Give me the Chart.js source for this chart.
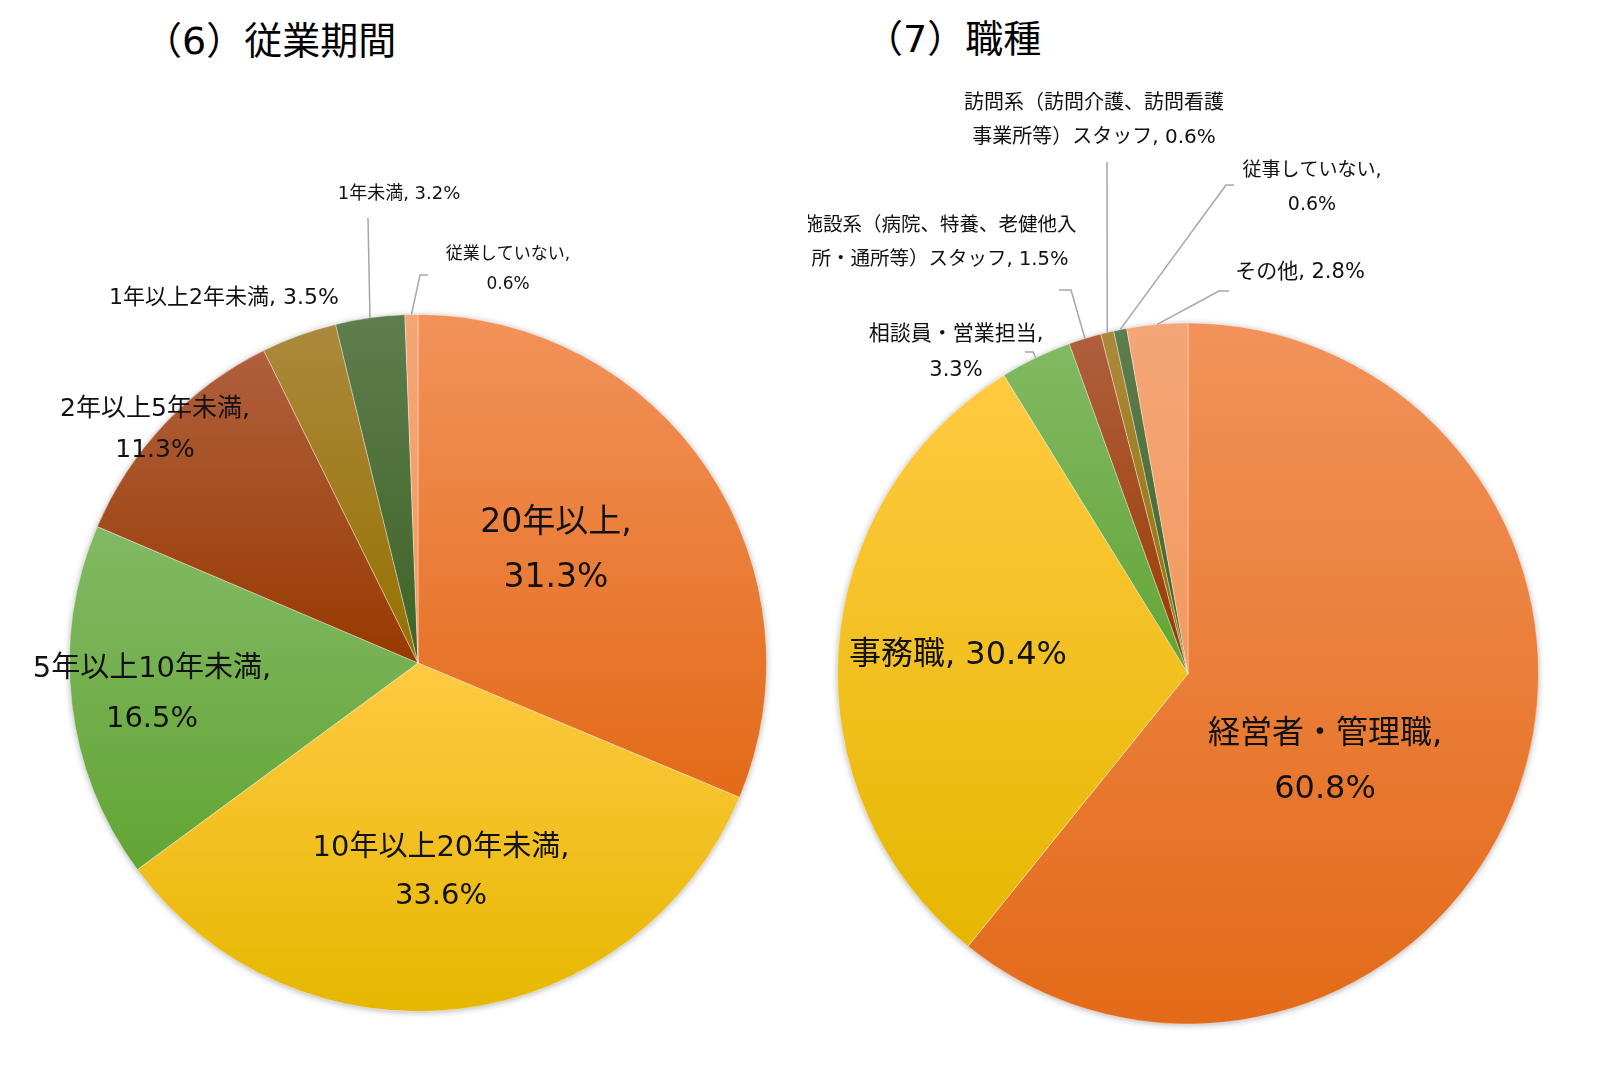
<!DOCTYPE html>
<html>
<head>
<meta charset="utf-8">
<script src="https://cdn.jsdelivr.net/npm/chart.js@4/dist/chart.umd.min.js"></script>
<style>
  html, body { margin: 0; padding: 0; background: #fff; }
  body { width: 1615px; height: 1071px; position: relative; overflow: hidden; }
  canvas { position: absolute; top: 0; }
  .title { position: absolute; font-family: "DejaVu Sans", "Noto Sans CJK JP", sans-serif; font-size: 38px; line-height: 38px; color: #000; white-space: nowrap; }
</style>
</head>
<body>
<div class="title" id="t6" style="left:144px; top:22px;">（6）従業期間</div>
<div class="title" id="t7" style="left:865px; top:20px;">（7）職種</div>
<canvas id="c6" width="808" height="1071" style="left:0px;"></canvas>
<canvas id="c7" width="807" height="1071" style="left:808px;"></canvas>
<script>
// ---- data ----
const tenureLabels = ["20年以上", "10年以上20年未満", "5年以上10年未満", "2年以上5年未満", "1年以上2年未満", "1年未満", "従業していない"];
const tenureValues = [31.3, 33.6, 16.5, 11.3, 3.5, 3.2, 0.6];
const jobLabels = ["経営者・管理職", "事務職", "相談員・営業担当", "施設系（病院、特養、老健他入所・通所等）スタッフ", "訪問系（訪問介護、訪問看護事業所等）スタッフ", "従事していない", "その他"];
const jobValues = [60.8, 30.4, 3.3, 1.5, 0.6, 0.6, 2.8];

// ---- styles ----
const FONT = '"DejaVu Sans", "Noto Sans CJK JP", sans-serif';
const PAL = {
  orange: ["#F2925A", "#E36A18"],
  gold: ["#FFCA42", "#E6B700"],
  green: ["#82B964", "#62A534"],
  brown: ["#B0603E", "#983A00"],
  darkgold: ["#AA893C", "#977100"],
  darkgreen: ["#5F7D4E", "#3D6425"],
  lightorange: ["#F5A676", "#F29A60"]
};
const tenurePalette = [PAL.orange, PAL.gold, PAL.green, PAL.brown, PAL.darkgold, PAL.darkgreen, PAL.lightorange];
const jobPalette = [PAL.orange, PAL.gold, PAL.green, PAL.brown, PAL.darkgold, PAL.darkgreen, PAL.lightorange];

// label layout (canvas coordinates): split = chars on first line (0 = single line)
const tenureLayout = [
  { split: 6, x: 556, y: [523, 578], size: 33 },
  { split: 11, x: 441, y: [848, 896], size: 29 },
  { split: 10, x: 152, y: [669, 719], size: 29 },
  { split: 9, x: 155, y: [409, 450], size: 25 },
  { split: 0, x: 224, y: [298], size: 22 },
  { split: 0, x: 399, y: [194], size: 18, leader: [[368, 218]] },
  { split: 8, x: 508, y: [255, 285], size: 17, leader: [[428, 275], [420, 275]] }
];
const jobLayout = [
  { split: 8, x: 517, y: [735, 790], size: 32 },
  { split: 0, x: 150, y: [656], size: 32 },
  { split: 9, x: 148, y: [335, 371], size: 21, leader: [[217, 352], [225, 352]] },
  { split: 14, x: 132, y: [226, 260], size: 19.5, leader: [[251, 290], [263, 290]] },
  { split: 13, x: 286, y: [104, 138], size: 20, leader: [[299, 162]] },
  { split: 8, x: 504, y: [171, 205], size: 19, leader: [[426, 185], [418, 185]] },
  { split: 0, x: 492, y: [273], size: 21, leader: [[421, 291], [411, 291]] }
];

function sliceGradient(palette) {
  return function (ctx) {
    const chart = ctx.chart, area = chart.chartArea, i = ctx.dataIndex;
    if (!area || i === undefined) return palette[0][0];
    const data = ctx.dataset.data;
    const total = data.reduce((a, b) => a + b, 0);
    let cum = 0;
    for (let j = 0; j < i; j++) cum += data[j];
    const a0 = -Math.PI / 2 + cum / total * 2 * Math.PI;
    const a1 = a0 + data[i] / total * 2 * Math.PI;
    const cx = (area.left + area.right) / 2, cy = (area.top + area.bottom) / 2;
    const r = Math.min(area.width, area.height) / 2;
    const ys = [cy, cy + r * Math.sin(a0), cy + r * Math.sin(a1)];
    if (a0 <= Math.PI / 2 && a1 >= Math.PI / 2) ys.push(cy + r);
    const y0 = Math.min(...ys), y1 = Math.max(...ys);
    const g = chart.ctx.createLinearGradient(0, y0, 0, Math.max(y1, y0 + 1));
    g.addColorStop(0, palette[i][0]);
    g.addColorStop(1, palette[i][1]);
    return g;
  };
}

const shadowPlugin = {
  id: 'pieShadow',
  beforeDatasetsDraw(chart) {
    const arc = chart.getDatasetMeta(0).data[0];
    if (!arc) return;
    const c = chart.ctx;
    c.save();
    c.shadowColor = 'rgba(0,0,0,0.35)';
    c.shadowBlur = 7;
    c.shadowOffsetX = 0;
    c.shadowOffsetY = 1;
    c.fillStyle = '#ffffff';
    c.beginPath();
    c.arc(arc.x, arc.y, arc.outerRadius - 0.5, 0, Math.PI * 2);
    c.fill();
    c.restore();
  }
};

const labelPlugin = {
  id: 'sliceLabels',
  afterDatasetsDraw(chart, args, opts) {
    const c = chart.ctx;
    const meta = chart.getDatasetMeta(0);
    const labels = chart.data.labels;
    const values = chart.data.datasets[0].data;
    opts.layout.forEach((L, i) => {
      const arc = meta.data[i];
      if (L.leader && arc) {
        const mid = (arc.startAngle + arc.endAngle) / 2;
        const ex = arc.x + Math.cos(mid) * arc.outerRadius;
        const ey = arc.y + Math.sin(mid) * arc.outerRadius;
        c.save();
        c.strokeStyle = '#A6A6A6';
        c.lineWidth = 1.5;
        c.beginPath();
        c.moveTo(L.leader[0][0], L.leader[0][1]);
        for (let k = 1; k < L.leader.length; k++) c.lineTo(L.leader[k][0], L.leader[k][1]);
        c.lineTo(ex, ey);
        c.stroke();
        c.restore();
      }
      const full = labels[i] + ', ' + values[i].toFixed(1) + '%';
      const lines = L.split ? [full.slice(0, L.split).trim(), full.slice(L.split).trim()] : [full];
      c.save();
      c.fillStyle = '#111111';
      c.font = L.size + 'px ' + FONT;
      c.textAlign = 'center';
      c.textBaseline = 'middle';
      lines.forEach((t, k) => c.fillText(t, L.x, L.y[k]));
      c.restore();
    });
  }
};

function makePie(id, labels, values, palette, layout, padding) {
  return new Chart(document.getElementById(id), {
    type: 'pie',
    data: {
      labels: labels,
      datasets: [{
        data: values,
        backgroundColor: sliceGradient(palette),
        borderColor: 'rgba(255,255,255,0.35)',
        borderWidth: 1
      }]
    },
    options: {
      responsive: false,
      animation: false,
      layout: { padding: padding },
      plugins: {
        legend: { display: false },
        tooltip: { enabled: false },
        sliceLabels: { layout: layout }
      }
    },
    plugins: [shadowPlugin, labelPlugin]
  });
}

makePie('c6', tenureLabels, tenureValues, tenurePalette, tenureLayout, { left: 69, right: 41, top: 314, bottom: 59 });
makePie('c7', jobLabels, jobValues, jobPalette, jobLayout, { left: 29, right: 76, top: 322, bottom: 46 });
</script>
</body>
</html>
